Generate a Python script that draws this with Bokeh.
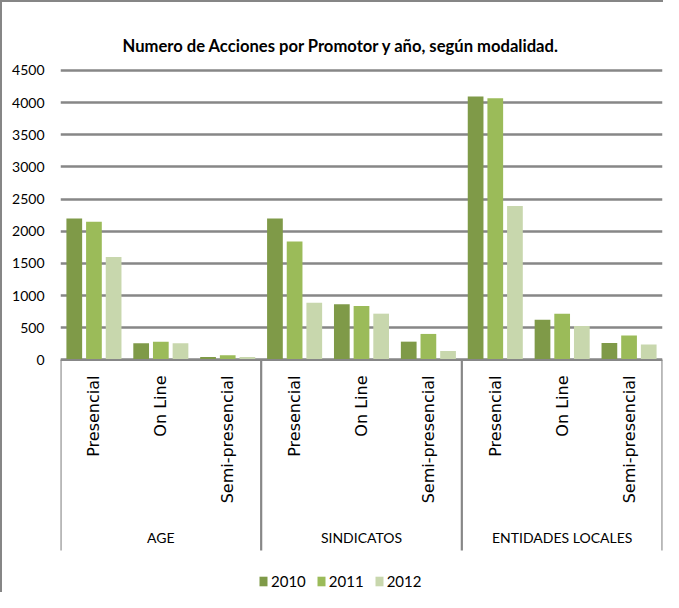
import math
from bokeh.plotting import figure
from bokeh.models import (ColumnDataSource, FactorRange, Range1d, FixedTicker, Span,
                          Legend, LegendItem)
from bokeh.transform import dodge
from bokeh.core.properties import value
from bokeh.embed import file_html
from bokeh.resources import INLINE

# ---- data ----
title_text = "Numero de Acciones por Promotor y año, según modalidad."
promotores = ["AGE", "SINDICATOS", "ENTIDADES LOCALES"]
modalidades = ["Presencial", "On Line", "Semi-presencial"]
years = ["2010", "2011", "2012"]
v2010 = [2200, 260, 45, 2200, 865, 285, 4095, 625, 265]
v2011 = [2150, 285, 75, 1840, 840, 405, 4070, 720, 380]
v2012 = [1600, 260, 45, 890, 720, 140, 2395, 530, 240]
y_ticks = [0, 500, 1000, 1500, 2000, 2500, 3000, 3500, 4000, 4500]

# ---- styles ----
NARROW = "Lato"
WIDE = "DejaVu Sans"
colors = ["#7F9A48", "#9BBB59", "#C8D7AD"]
grid_col = "#878787"
Y_TOP = 4624
Y_BOTTOM = -3645
SEP_END = -2961

factors = [(g, m) for g in promotores for m in modalidades]

p = figure(width=663, height=592, output_backend="svg", toolbar_location=None,
           x_range=FactorRange(*factors, range_padding=0, factor_padding=0,
                               group_padding=0, subgroup_padding=0),
           y_range=Range1d(Y_BOTTOM, Y_TOP),
           x_axis_location=None,
           min_border_left=58, min_border_right=3, min_border_top=60,
           min_border_bottom=0,
           styles={"border-left": "2px solid #868686", "border-top": "2px solid #868686"})

p.title.text = title_text
p.title.align = "left"
p.title.offset = 62
p.title.vertical_align = "top"
p.title.text_line_height = 2.2
p.title.text_font = NARROW
p.title.text_font_size = "16.6px"
p.title.text_font_style = "bold"
p.title.text_color = "#000000"

p.outline_line_color = None
p.background_fill_color = "white"
p.border_fill_color = "white"

# y axis / grid
ticker = FixedTicker(ticks=y_ticks)
p.yaxis.ticker = ticker
p.yaxis.bounds = (0, max(y_ticks))
p.yaxis.axis_line_color = None
p.yaxis.major_tick_line_color = None
p.yaxis.minor_tick_line_color = None
p.yaxis.major_tick_out = 0
p.yaxis.major_tick_in = 0
p.yaxis.minor_tick_out = 0
p.yaxis.axis_label_standoff = 0
p.yaxis.major_label_standoff = 16
p.yaxis.major_label_text_font = NARROW
p.yaxis.major_label_text_font_size = "14px"
p.yaxis.major_label_text_color = "#000000"
p.xgrid.grid_line_color = None
p.ygrid.ticker = ticker
p.ygrid.grid_line_color = grid_col
p.ygrid.grid_line_width = 2.6

# bars
step = 0.294
bar_w = 0.235
series = [v2010, v2011, v2012]
items = []
for i, (yr, vals) in enumerate(zip(years, series)):
    src = ColumnDataSource(dict(x=factors, top=vals))
    r = p.vbar(x=dodge("x", (i - 1) * step, range=p.x_range), top="top", width=bar_w,
               source=src, fill_color=colors[i], line_color=None)
    items.append(LegendItem(label=yr, renderers=[r]))

# category axis line at 0
p.add_layout(Span(location=0, dimension="width", line_color=grid_col, line_width=2.2))

# group separators
n = len(modalidades)
bounds_x = [i * n for i in range(len(promotores) + 1)]
sep = ColumnDataSource(dict(x0=bounds_x, x1=bounds_x,
                            y0=[0] * len(bounds_x), y1=[SEP_END] * len(bounds_x)))
p.segment(x0="x0", y0="y0", x1="x1", y1="y1", source=sep,
          line_color=grid_col, line_width=2.2)

# sub-category labels (vertical)
sub_src = ColumnDataSource(dict(x=factors, lab=[f[1] for f in factors]))
p.text(x="x", y=-241, text="lab", source=sub_src, angle=math.pi / 2,
       text_align="right", text_baseline="middle",
       text_font=value(WIDE), text_font_size="16px", text_color="#000000")

# group labels
grp_src = ColumnDataSource(dict(x=[(g, modalidades[len(modalidades) // 2]) for g in promotores],
                                lab=promotores))
p.text(x="x", y=-2759, text="lab", source=grp_src,
       text_align="center", text_baseline="middle",
       text_font=value(NARROW), text_font_size="14px", text_color="#000000")

legend = Legend(items=items, orientation="horizontal", location=(198, 4),
                glyph_width=10, glyph_height=12, label_standoff=3, spacing=10,
                padding=5, margin=0, border_line_color=None,
                background_fill_alpha=0,
                label_text_font=NARROW, label_text_font_size="15px",
                label_text_color="#000000", label_height=12)
p.add_layout(legend, "center")

open("out.html", "w").write(file_html(p, INLINE))
